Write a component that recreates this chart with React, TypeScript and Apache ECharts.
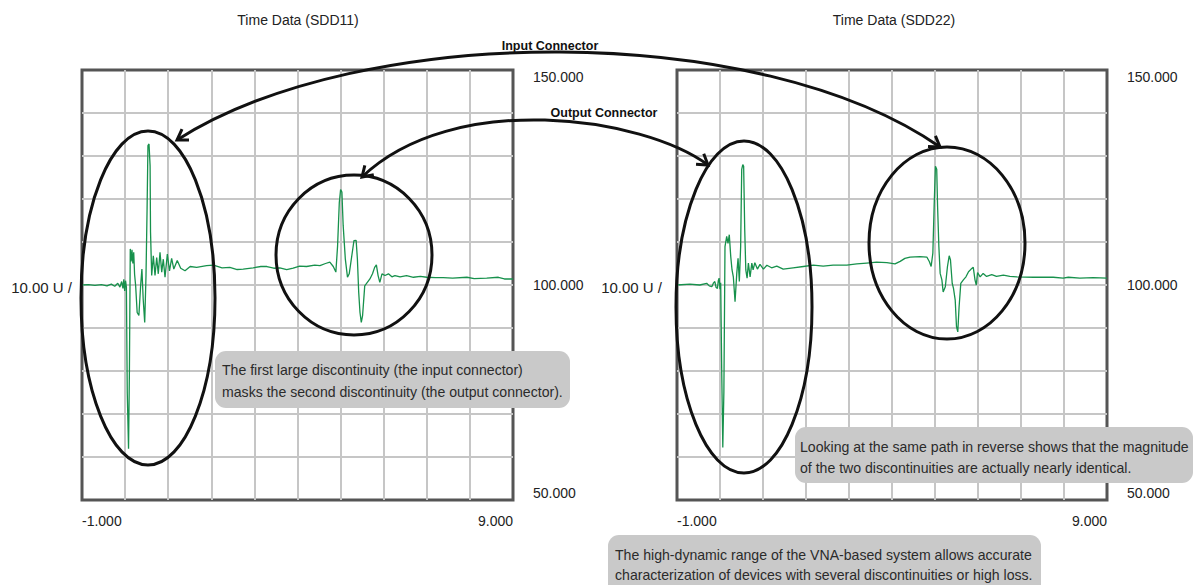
import React, { useEffect, useRef } from "react";
import * as echarts from "echarts";

// ---- Data (time in ns-like units, value in mU scale) ----
const sdd11Time = [
  -1.0, -0.85, -0.7, -0.55, -0.42, -0.32, -0.24, -0.17, -0.12, -0.08, -0.05, -0.03, -0.01, 0.01, 0.03,
  0.05, 0.08, 0.1, 0.12, 0.14, 0.16, 0.18, 0.2, 0.22, 0.245, 0.28, 0.32, 0.36, 0.39, 0.42, 0.455, 0.485,
  0.51, 0.53, 0.555, 0.58, 0.59, 0.617, 0.655, 0.694, 0.733, 0.77, 0.81, 0.85, 0.886, 0.926, 0.98, 1.03,
  1.08, 1.13, 1.21, 1.29, 1.39, 1.51, 1.66, 1.89, 2.05, 2.25, 2.43, 2.6, 2.74, 2.97, 3.15, 3.29, 3.45,
  3.59, 3.75, 3.9, 4.05, 4.21, 4.4, 4.52, 4.65, 4.75, 4.83, 4.89, 4.93, 4.97, 5.0, 5.03, 5.06, 5.11,
  5.16, 5.2, 5.26, 5.31, 5.36, 5.39, 5.42, 5.45, 5.48, 5.51, 5.56, 5.62, 5.68, 5.74, 5.79, 5.83, 5.87,
  5.91, 5.96, 6.03, 6.11, 6.19, 6.26, 6.38, 6.53, 6.69, 6.85, 7.0, 7.2, 7.38, 7.6, 7.93, 8.1, 8.39,
  8.66, 8.8, 9.0,
];
const sdd11Value = [
  100.0, 100.1, 99.9, 100.1, 99.8, 100.2, 99.7, 100.4, 99.5, 100.8, 99.2, 101.3, 98.6, 101.0, 99.5,
  75.0, 61.9, 80.0, 108.4, 105.5, 108.2, 105.0, 107.6, 102.5, 99.8, 93.6, 92.9, 99.8, 103.7, 96.7, 91.3, 102.2,
  117.7, 132.4, 132.8, 127.7, 112.3, 102.2, 106.8, 102.2, 106.4, 102.6, 107.6, 103.0, 106.0, 101.8, 107.2, 103.3,
  106.2, 103.7, 105.7, 103.9, 103.3, 104.3, 104.1, 104.5, 104.6, 104.0, 104.1, 103.6, 103.7, 104.0, 104.3, 104.3, 103.9,
  104.0, 103.6, 103.9, 104.4, 104.3, 104.6, 104.5, 105.0, 105.3, 104.3, 103.0, 109.1, 119.2, 122.2, 121.6, 113.8, 106.0,
  101.8, 102.6, 106.8, 110.3, 110.4, 106.0, 98.3, 93.6, 91.3, 92.9, 99.8, 100.6, 101.4, 102.6, 104.1, 104.7, 102.2,
  100.6, 102.6, 102.2, 102.6, 101.9, 102.2, 101.9, 102.2, 101.8, 102.0, 101.8, 101.7, 101.7, 101.6, 101.8, 101.5, 101.6,
  101.8, 101.4, 101.4,
];

const sdd22Time = [
  -1.0, -0.7, -0.47, -0.31, -0.25, -0.19, -0.15, -0.12, -0.09, -0.06, -0.04, -0.02, 0.0, 0.016, 0.04,
  0.065, 0.09, 0.116, 0.156, 0.186, 0.216, 0.25, 0.28, 0.31, 0.35, 0.39, 0.42, 0.45, 0.48, 0.505, 0.53,
  0.55, 0.575, 0.6, 0.63, 0.66, 0.7, 0.74, 0.77, 0.81, 0.87, 0.93, 1.01, 1.09, 1.2, 1.32, 1.47, 1.7,
  1.94, 2.17, 2.4, 2.63, 2.95, 3.18, 3.41, 3.64, 3.88, 4.07, 4.19, 4.3, 4.42, 4.65, 4.81, 4.87, 4.91,
  4.95, 4.98, 5.01, 5.04, 5.06, 5.09, 5.12, 5.16, 5.19, 5.24, 5.29, 5.33, 5.36, 5.4, 5.43, 5.47, 5.5,
  5.53, 5.56, 5.6, 5.66, 5.72, 5.78, 5.84, 5.89, 5.93, 5.96, 5.99, 6.05, 6.12, 6.2, 6.32, 6.43, 6.59,
  6.74, 6.9, 7.29, 7.75, 7.98, 8.1, 8.37, 8.68, 9.0,
];
const sdd22Value = [
  100.0, 100.2, 100.0, 100.4, 99.8, 99.6, 100.5, 100.8, 99.4, 99.2, 101.0, 101.6, 99.0, 100.5, 80.0,
  62.2, 75.0, 108.9, 111.3, 109.7, 111.7, 106.6, 103.5, 101.9, 96.1, 102.7, 106.2, 100.8, 108.9, 126.9, 128.0,
  127.6, 112.9, 103.5, 101.6, 105.1, 101.9, 105.1, 103.5, 105.2, 103.7, 104.8, 103.7, 104.6, 104.0, 104.4, 103.7, 104.0,
  104.3, 104.6, 104.4, 104.6, 104.6, 104.9, 105.1, 105.3, 105.2, 104.9, 105.5, 106.2, 106.5, 106.6, 106.5, 105.4, 104.3,
  107.4, 118.3, 127.6, 126.9, 118.3, 108.9, 102.7, 101.2, 98.4, 99.6, 104.3, 106.8, 105.8, 100.4, 99.2, 96.5, 90.3,
  89.1, 94.9, 100.4, 101.2, 101.9, 103.1, 103.7, 104.1, 101.2, 100.0, 102.9, 101.9, 102.7, 102.0, 102.4, 102.0, 102.3,
  102.0, 101.9, 101.8, 101.8, 101.6, 101.8, 101.6, 101.7, 101.6,
];

const xTickValues = [-1, 9];
const yTickValues = [50, 100, 150];
const chartTitles = ["Time Data (SDD11)", "Time Data (SDD22)"];
const scaleLabel = "10.00 U /";
const noteInput = ["The first large discontinuity (the input connector)", "masks the second discontinuity (the output connector)."];
const noteReverse = ["Looking at the same path in reverse shows that the magnitude", "of the two discontinuities are actually nearly identical."];
const noteRange = ["The high-dynamic range of the VNA-based system allows accurate", "characterization of devices with several discontinuities or high loss."];

const FONT = "'Liberation Sans', Arial, sans-serif";
const GREEN = "#17914c";
const INK = "#111111";

type Pt = [number, number];
function arrowHead(tip: Pt, from: Pt, len = 12, ang = Math.PI / 5.5): Pt[] {
  const a = Math.atan2(tip[1] - from[1], tip[0] - from[0]);
  return [
    [tip[0] - len * Math.cos(a - ang), tip[1] - len * Math.sin(a - ang)],
    tip,
    [tip[0] - len * Math.cos(a + ang), tip[1] - len * Math.sin(a + ang)],
  ];
}

function curveWithHeads(p0: Pt, p1: Pt, p2: Pt, p3: Pt): any[] {
  const st = { stroke: INK, lineWidth: 3, fill: null } as any;
  return [
    {
      type: "bezierCurve",
      z: 100,
      shape: { x1: p0[0], y1: p0[1], cpx1: p1[0], cpy1: p1[1], cpx2: p2[0], cpy2: p2[1], x2: p3[0], y2: p3[1] },
      style: st,
    },
    { type: "polyline", z: 100, shape: { points: arrowHead(p0, p1) }, style: st },
    { type: "polyline", z: 100, shape: { points: arrowHead(p3, p2) }, style: st },
  ];
}

function note(x: number, y: number, w: number, h: number, lines: string[], tx: number, ty: number[]): any[] {
  const els: any[] = [
    { type: "rect", z: 110, shape: { x, y, width: w, height: h, r: 11 }, style: { fill: "#c9c9c9" } },
  ];
  lines.forEach((t, i) => {
    els.push({
      type: "text",
      z: 111,
      x: tx,
      y: ty[i],
      style: { text: t, fontFamily: FONT, fontSize: 14.1, fill: "#2b2b2b", textVerticalAlign: "middle" },
    });
  });
  return els;
}

function ellipse(cx: number, cy: number, rx: number, ry: number): any {
  return { type: "ellipse", z: 100, shape: { cx, cy, rx, ry }, style: { fill: null, stroke: INK, lineWidth: 3 } };
}

export default function App() {
  const ref = useRef<HTMLDivElement>(null);
  useEffect(() => {
    if (!ref.current) return;
    const chart = echarts.init(ref.current, undefined, { renderer: "svg" });
    const grids = [
      { left: 82, top: 70, width: 431, height: 430 },
      { left: 677, top: 70, width: 430, height: 430 },
    ];
    const xAxes = grids.map((_, i) => ({
      gridIndex: i,
      type: "value",
      min: -1,
      max: 9,
      interval: 1,
      axisLine: { show: false },
      axisTick: { show: false },
      splitLine: { show: true, showMinLine: false, showMaxLine: false, lineStyle: { color: "#c6c6c6", width: 2 } },
      axisLabel: {
        show: true,
        margin: 14,
        color: "#222",
        fontFamily: FONT,
        fontSize: 14,
        showMinLabel: true,
        showMaxLabel: true,
        alignMinLabel: "left",
        alignMaxLabel: "right",
        formatter: (v: number) => (xTickValues.includes(v) ? v.toFixed(3) : ""),
      },
    }));
    const yAxes = grids.map((_, i) => ({
      gridIndex: i,
      type: "value",
      position: "right",
      min: 50,
      max: 150,
      interval: 10,
      axisLine: { show: false },
      axisTick: { show: false },
      splitLine: { show: true, showMinLine: false, showMaxLine: false, lineStyle: { color: "#c6c6c6", width: 2 } },
      axisLabel: {
        show: true,
        margin: 20,
        color: "#222",
        fontFamily: FONT,
        fontSize: 14,
        showMinLabel: true,
        showMaxLabel: true,
        verticalAlignMinLabel: "bottom",
        verticalAlignMaxLabel: "top",
        formatter: (v: number) => (yTickValues.includes(v) ? v.toFixed(3) : ""),
      },
    }));
    const mk = (t: number[], v: number[]) => t.map((x, i) => [x, v[i]]);
    const series = [
      { name: "SDD11", data: mk(sdd11Time, sdd11Value), xAxisIndex: 0, yAxisIndex: 0 },
      { name: "SDD22", data: mk(sdd22Time, sdd22Value), xAxisIndex: 1, yAxisIndex: 1 },
    ].map((s) => ({
      ...s,
      type: "line",
      showSymbol: false,
      symbol: "none",
      lineStyle: { color: GREEN, width: 1.3 },
      z: 5,
    }));

    const graphic: any[] = [
      { type: "text", x: 298, y: 20, style: { text: chartTitles[0], fontFamily: FONT, fontSize: 14, fill: "#222", textAlign: "center", textVerticalAlign: "middle" } },
      { type: "text", x: 894, y: 20, style: { text: chartTitles[1], fontFamily: FONT, fontSize: 14, fill: "#222", textAlign: "center", textVerticalAlign: "middle" } },
      { type: "text", x: 72, y: 287, style: { text: scaleLabel, fontFamily: FONT, fontSize: 15, fill: "#222", textAlign: "right", textVerticalAlign: "middle" } },
      { type: "text", x: 662, y: 287, style: { text: scaleLabel, fontFamily: FONT, fontSize: 15, fill: "#222", textAlign: "right", textVerticalAlign: "middle" } },
      ellipse(148, 298, 67, 167),
      ellipse(354, 255, 78, 80),
      ellipse(744, 307, 68, 166),
      ellipse(947, 243, 78, 96),
      ...curveWithHeads([177, 140], [362, 22], [759, 21], [940, 147]),
      ...curveWithHeads([362, 177], [454, 89.5], [642.6, 116.6], [708, 165]),
      { type: "text", z: 101, x: 550, y: 46, style: { text: "Input Connector", fontFamily: FONT, fontWeight: "bold", fontSize: 12.5, fill: INK, textAlign: "center", textVerticalAlign: "middle" } },
      { type: "text", z: 101, x: 604, y: 113, style: { text: "Output Connector", fontFamily: FONT, fontWeight: "bold", fontSize: 12.5, fill: INK, textAlign: "center", textVerticalAlign: "middle" } },
      ...note(215, 351, 355, 57, noteInput, 222, [370, 392]),
      ...note(795, 427, 398, 56, noteReverse, 800, [447, 468]),
      ...note(608, 535, 433, 60, noteRange, 615, [555, 575]),
    ];

    chart.setOption({
      animation: false,
      backgroundColor: "#ffffff",
      grid: grids.map((g) => ({ ...g, show: true, borderColor: "#555555", borderWidth: 3, backgroundColor: "transparent" })),
      xAxis: xAxes,
      yAxis: yAxes,
      series,
      graphic,
    } as any);
    return () => chart.dispose();
  }, []);
  return (
    <div
      ref={ref}
      style={{ position: "absolute", left: 0, top: 0, width: 1194, height: 585, background: "#fff" }}
    />
  );
}
